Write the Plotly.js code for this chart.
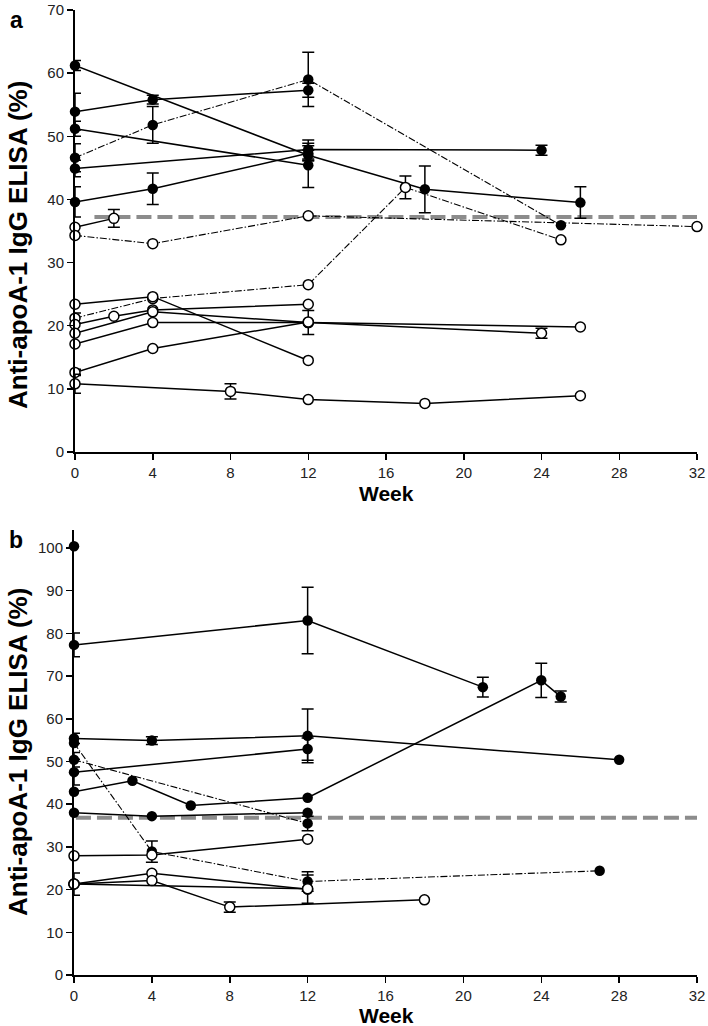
<!DOCTYPE html>
<html>
<head>
<meta charset="utf-8">
<script src="https://cdn.plot.ly/plotly-3.0.1.min.js"></script>
<style>html,body{margin:0;padding:0;background:#fff;}#chart{width:708px;height:1026px;}</style>
</head>
<body>
<div id="chart"></div>
<script>
// ---------- shared ----------
const weekTicks = [0, 4, 8, 12, 16, 20, 24, 28, 32];
const cutoffA = 37.2;
const cutoffB = 36.8;

// ---------- Panel a data ----------
// each series: weeks, values, error (NaN = no bar), filled?, dash-dot?
const aWeeks = [
  [0, 12, 18, 26],
  [0, 4, 12],
  [0, 4, 12, 25],
  [0, 12],
  [0, 12, 24],
  [0, 4, 12],
  [0, 2],
  [0, 4, 12, 32],
  [0, 4, 12, 17, 25],
  [0, 4, 12],
  [0, 2, 4, 12],
  [0, 4, 12, 24],
  [0, 4, 12, 26],
  [0, 4, 12],
  [0, 8, 12, 18, 26]
];
const aValues = [
  [61.2, 47.0, 41.6, 39.5],
  [53.9, 55.8, 57.3],
  [46.6, 51.8, 59.0, 35.9],
  [51.2, 45.4],
  [44.9, 47.9, 47.8],
  [39.6, 41.7, 47.3],
  [35.6, 37.0],
  [34.3, 33.0, 37.4, 35.7],
  [21.2, 24.3, 26.5, 41.9, 33.6],
  [23.4, 24.6, 14.5],
  [20.2, 21.5, 22.5, 23.4],
  [18.8, 22.2, 20.5, 18.8],
  [17.1, 20.5, 20.5, 19.8],
  [12.6, 16.4, 20.6],
  [10.8, 9.6, 8.3, 7.7, 8.9]
];
const aErrors = [
  [0.8, 0.8, 3.7, 2.5],
  [2.9, 0.7, 1.1],
  [2.2, 2.9, 4.3, NaN],
  [1.2, 3.5],
  [1.3, 1.5, 0.8],
  [2.4, 2.5, 1.2],
  [NaN, 1.4],
  [NaN, NaN, NaN, NaN],
  [0.8, NaN, NaN, 1.8, NaN],
  [NaN, NaN, NaN],
  [NaN, NaN, NaN, NaN],
  [NaN, NaN, 1.9, 0.8],
  [NaN, NaN, NaN, NaN],
  [0.5, NaN, NaN],
  [1.5, 1.2, NaN, NaN, NaN]
];
const aFilled = [true, true, true, true, true, true, false, false, false, false, false, false, false, false, false];
const aDashDot = [false, false, true, false, false, false, false, true, true, false, false, false, false, false, false];

// ---------- Panel b data ----------
const bWeeks = [
  [0],
  [0, 12, 21],
  [0, 4, 12, 28],
  [0, 4, 12, 27],
  [0, 12],
  [0, 12],
  [0, 3, 6, 12, 24, 25],
  [0, 4, 12],
  [0, 4, 12],
  [0, 4, 12],
  [0, 4, 8, 18],
  [0, 12]
];
const bValues = [
  [100.4],
  [77.3, 83.0, 67.4],
  [55.4, 54.9, 56.0, 50.4],
  [54.3, 28.9, 21.9, 24.4],
  [47.5, 52.9],
  [50.4, 35.5],
  [42.9, 45.5, 39.7, 41.5, 69.0, 65.2],
  [38.0, 37.2, 38.0],
  [27.9, 28.1, 31.8],
  [21.3, 23.8, 20.1],
  [21.3, 22.1, 15.9, 17.6],
  [21.3, 20.2]
];
const bErrors = [
  [NaN],
  [2.8, 7.8, 2.3],
  [1.2, 0.9, 6.3, NaN],
  [NaN, 2.5, 2.3, NaN],
  [3.0, 2.6],
  [1.7, 1.7],
  [NaN, NaN, NaN, NaN, 4.0, 1.3],
  [NaN, NaN, NaN],
  [NaN, NaN, NaN],
  [2.6, NaN, 3.3],
  [NaN, NaN, 1.2, NaN],
  [NaN, NaN]
];
const bFilled = [true, true, true, true, true, true, true, true, false, false, false, false];
const bDashDot = [false, false, false, true, false, true, false, false, false, false, false, false];

// ---------- build traces ----------
function seriesTraces(weeks, values, errors, filled, dashdot, xa, ya) {
  const out = [];
  const order = weeks.map((_, i) => i).sort((p, q) => (filled[q] ? 1 : 0) - (filled[p] ? 1 : 0));
  order.forEach(i => {
    out.push({
      type: 'scatter',
      mode: 'lines+markers',
      x: weeks[i],
      y: values[i],
      xaxis: xa, yaxis: ya,
      cliponaxis: false,
      line: {color: 'black', width: dashdot[i] ? 1.1 : 1.5, dash: dashdot[i] ? '7px,2px,1.5px,2px' : 'solid'},
      marker: filled[i]
        ? {symbol: 'circle', size: 10.5, color: 'black', line: {color: 'black', width: 0}}
        : {symbol: 'circle', size: 10, color: 'white', line: {color: 'black', width: 1.5}},
      error_y: {type: 'data', array: errors[i], visible: true, color: 'black', thickness: 1.5, width: 6},
      hoverinfo: 'skip'
    });
  });
  return out;
}

const traces = [];
traces.push({type: 'scatter', mode: 'lines', x: [1, 32], y: [cutoffA, cutoffA], xaxis: 'x', yaxis: 'y',
  line: {color: '#8c8c8c', width: 4, dash: '15px,6px'}, hoverinfo: 'skip'});
traces.push({type: 'scatter', mode: 'lines', x: [0.1, 32], y: [cutoffB, cutoffB], xaxis: 'x2', yaxis: 'y2',
  line: {color: '#8c8c8c', width: 4, dash: '15px,6px'}, hoverinfo: 'skip'});
traces.push(...seriesTraces(aWeeks, aValues, aErrors, aFilled, aDashDot, 'x', 'y'));
traces.push(...seriesTraces(bWeeks, bValues, bErrors, bFilled, bDashDot, 'x2', 'y2'));

const W = 708, H = 1026;
function axisBase() {
  return {
    showline: true, linecolor: 'black', linewidth: 2,
    ticks: 'outside', ticklen: 6, tickwidth: 1.5, tickcolor: 'black',
    showgrid: false, zeroline: false,
    tickfont: {family: 'Liberation Sans, Arial, sans-serif', size: 15, color: '#222'}
  };
}
function label(text, px, py, size, angle) {
  return {text: text, xref: 'paper', yref: 'paper', x: px / W, y: 1 - py / H,
    xanchor: 'center', yanchor: 'middle', textangle: angle || 0, showarrow: false,
    font: {size: size, color: 'black', family: 'Liberation Sans, Arial, sans-serif'}};
}
const layout = {
  width: W, height: H,
  margin: {l: 0, r: 0, t: 0, b: 0},
  paper_bgcolor: 'white', plot_bgcolor: 'white',
  showlegend: false,
  font: {family: 'Liberation Sans, Arial, sans-serif', color: '#111'},
  xaxis: Object.assign(axisBase(), {domain: [75 / W, 697 / W], range: [0, 32], tickvals: weekTicks, anchor: 'y'}),
  yaxis: Object.assign(axisBase(), {domain: [1 - 452 / H, 1 - 10 / H], range: [0, 70], tickvals: [0, 10, 20, 30, 40, 50, 60, 70], anchor: 'x'}),
  xaxis2: Object.assign(axisBase(), {domain: [74 / W, 697 / W], range: [0, 32], tickvals: weekTicks, anchor: 'y2'}),
  yaxis2: Object.assign(axisBase(), {domain: [1 - 975 / H, 1 - 530 / H], range: [0, 104.2], tickvals: [0, 10, 20, 30, 40, 50, 60, 70, 80, 90, 100], anchor: 'x2'}),
  annotations: [
    label('<b>a</b>', 16, 20, 23),
    label('<b>b</b>', 16, 540, 23),
    label('<b>Week</b>', 386, 493, 21),
    label('<b>Week</b>', 386, 1015, 21),
    label('<b>Anti-apoA-1 IgG ELISA (%)</b>', 18, 245, 26, -90),
    label('<b>Anti-apoA-1 IgG ELISA (%)</b>', 18, 752, 26, -90)
  ]
};
Plotly.newPlot('chart', traces, layout, {staticPlot: true, displayModeBar: false});
</script>
</body>
</html>
